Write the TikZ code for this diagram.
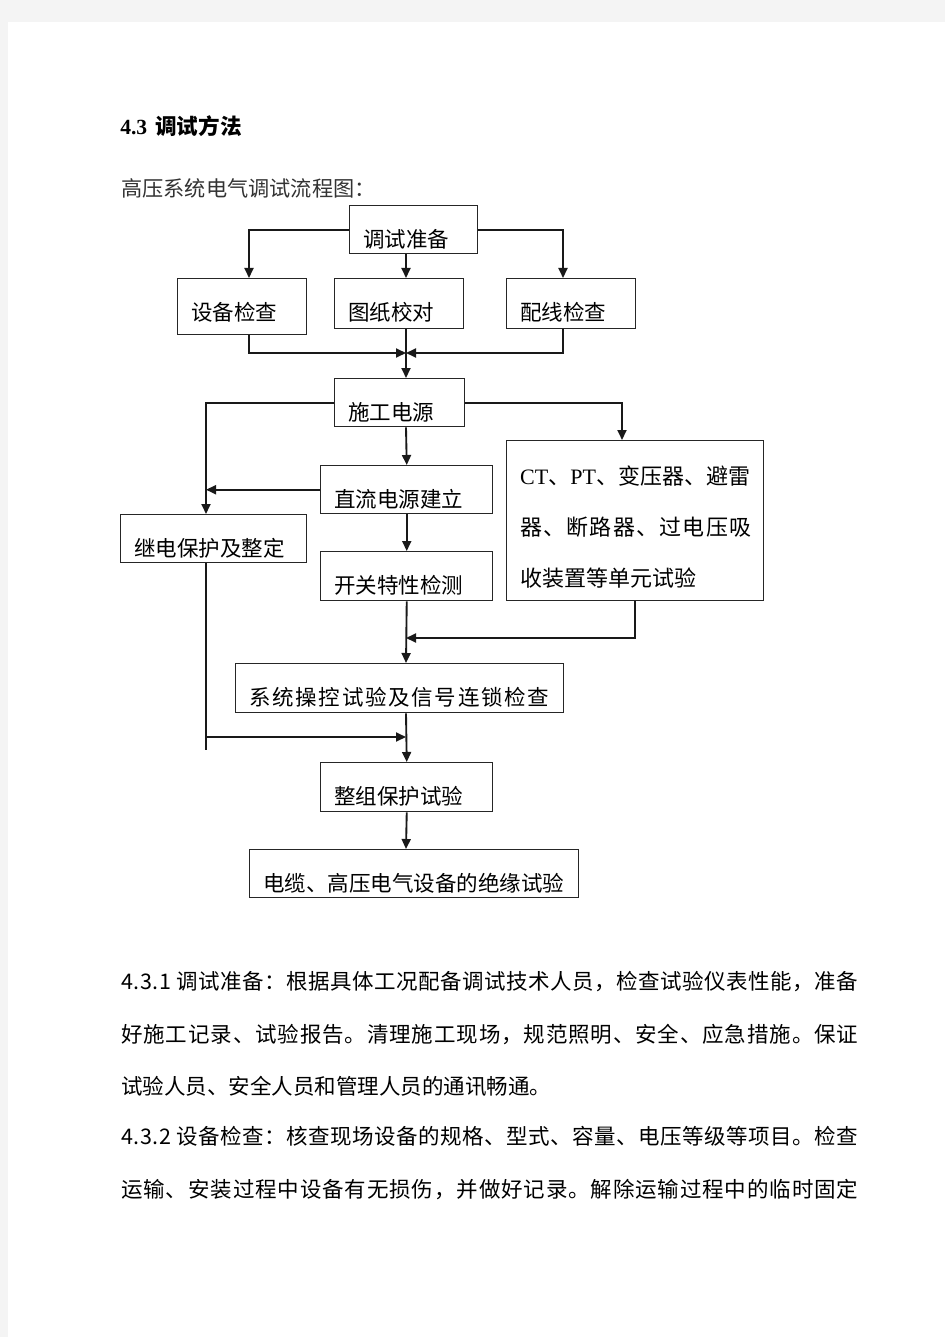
\documentclass[tikz,border=0pt]{standalone}
\usepackage{fontspec}
\setmainfont{Liberation Serif}
\newfontfamily\cjk{Noto Sans CJK SC}
\usetikzlibrary{arrows.meta}
\definecolor{pagegray}{HTML}{F4F4F4}
\newdimen\px \px=0.75pt
\newlength\bw \newlength\bd
\def\spc#1{#1\spcx}
\def\spcx#1{\ifx#1\relax\else\hskip0pt plus1fil\relax#1\expandafter\spcx\fi}
\newcommand\jline[2]{\makebox[#1\px][s]{\spc#2\relax}}
\tikzset{
  box/.style={draw=black!85, line width=1.1pt, inner xsep=10.125pt, inner ysep=0pt,
    align=left, text height=31.125pt, font=\cjk\fontsize{16.125pt}{16.125pt}\selectfont},
  conn/.style={draw=black!90, line width=1.4pt, -{Triangle[length=7.5pt,width=6.75pt]}},
  plain/.style={draw=black!90, line width=1.4pt},
  body/.style={inner sep=0pt, anchor=base west, font=\cjk\fontsize{16.125pt}{16.125pt}\selectfont}
}
\newcommand\bx[6]{\bw=\dimexpr#4\px-27\px\relax \bd=\dimexpr#5\px-41.5\px\relax
  \node[box, anchor=north west, text width=\bw, text depth=\bd] (#1) at (#2,#3) {#6};}
\begin{document}
\begin{tikzpicture}[x=1\px, y=-1\px]
\useasboundingbox (0,0) rectangle (945,1337);
\fill[pagegray] (0,0) rectangle (945,1337);
\fill[white] (8,22) rectangle (945,1337);

% headings
\node[inner sep=0pt, anchor=base west] (title) at (120,134.5)
  {\fontsize{16.2pt}{16.2pt}\selectfont\bfseries 4.3\hspace*{6pt}{\cjk 调试方法}};
\node[body, text=black!80, font=\cjk\fontsize{15.9pt}{15.9pt}\selectfont] (sub) at (121,197) {高压系统电气调试流程图：};

% boxes
\bx{prep}{349}{205}{128}{48}{调试准备}
\bx{equip}{177}{278}{129}{56}{设备检查}
\bx{drawing}{334}{278}{129}{50}{图纸校对}
\bx{wiring}{506}{278}{129}{50}{配线检查}
\bx{power}{334}{378}{130}{48}{施工电源}
\bx{dc}{320}{465}{172}{48}{直流电源建立}
\bx{relay}{120}{514}{186}{48}{继电保护及整定}
\bx{switch}{320}{551}{172}{49}{开关特性检测}
\bx{sys}{235}{663}{328}{49}{\jline{300}{系统操控试验及信号连锁检查}}
\bx{group}{320}{762}{172}{49}{整组保护试验}
\bx{cable}{249}{849}{329}{48}{电缆、高压电气设备的绝缘试验}
\node[box, anchor=north west, text width=172.5pt, text height=33pt, text depth=87pt,
  font=\cjk\fontsize{16.5pt}{38.25pt}\selectfont] (ct) at (506,440)
  {{\rmfamily CT}、{\rmfamily PT}、变压器、避雷\\
   \jline{231}{器、断路器、过电压吸}\\
   收装置等单元试验};

% column coordinates
\coordinate (xA) at (249,0);
\coordinate (xB) at (563,0);
\coordinate (xS) at (406,0);
\coordinate (xR) at (206,0);
\coordinate (xC) at (622,0);
\coordinate (m1) at (406,353);
\coordinate (m2) at (406,638);
\coordinate (m3) at (406,737);
\coordinate (rEnd) at (206,750);

% connectors
\draw[conn] (prep.west) -| (equip.north -| xA);
\draw[conn] (prep.east) -| (wiring.north -| xB);
\draw[conn] (prep.south -| xS) -- (drawing.north -| xS);
\draw[conn] (equip.south -| xA) |- (m1);
\draw[conn] (wiring.south -| xB) |- (m1);
\draw[conn] (drawing.south -| xS) -- (power.north -| xS);
\draw[conn] (power.west) -| (relay.north -| xR);
\draw[conn] (power.east) -| (ct.north -| xC);
\draw[conn] (power.south -| xS) -- (dc.north);
\draw[conn] (dc.west) -- (dc.west -| xR);
\draw[conn] (dc.south) -- (switch.north);
\draw[conn] (switch.south) -- (sys.north -| xS);
\draw[conn] (ct.south) |- (m2);
\draw[plain] (relay.south -| xR) -- (rEnd);
\draw[conn] (m3 -| xR) -- (m3);
\draw[conn] (sys.south -| xS) -- (group.north);
\draw[conn] (group.south) -- (cable.north -| xS);

% body text
\node[body] (l1) at (121,989.5) {\jline{737}{4.3.1\ 调试准备：根据具体工况配备调试技术人员，检查试验仪表性能，准备}};
\node[body] (l2) at (121,1042) {\jline{737}{好施工记录、试验报告。清理施工现场，规范照明、安全、应急措施。保证}};
\node[body] (l3) at (121,1094.5) {试验人员、安全人员和管理人员的通讯畅通。};
\node[body] (l4) at (121,1144.5) {\jline{737}{4.3.2\ 设备检查：核查现场设备的规格、型式、容量、电压等级等项目。检查}};
\node[body] (l5) at (121,1197) {\jline{737}{运输、安装过程中设备有无损伤，并做好记录。解除运输过程中的临时固定}};
\end{tikzpicture}
\end{document}
